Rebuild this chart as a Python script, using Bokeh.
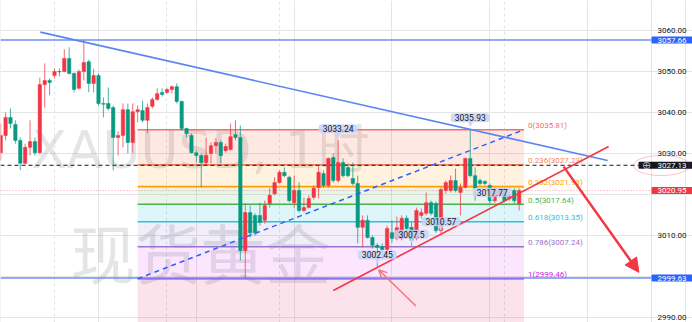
import numpy as np
from bokeh.plotting import figure
from bokeh.models import (Range1d, FixedTicker, NumeralTickFormatter, Label, Arrow, LinearAxis,
                          NormalHead, OpenHead, PolyAnnotation, Grid)
from bokeh.core.properties import value
from bokeh.embed import file_html
from bokeh.resources import INLINE

# ---------------- data (hourly XAUUSD candles) ----------------
opens = [3030.2, 3034.4, 3038.8, 3037.1, 3033.2, 3027.6, 3031.5, 3032.9, 3030.2, 3046.8,
         3047.8, 3049.0, 3050.0, 3050.0, 3053.2, 3049.5, 3045.9, 3050.0, 3052.4, 3047.1,
         3049.0, 3042.2, 3042.2, 3041.2, 3033.9, 3034.4, 3040.7, 3032.7, 3040.2, 3040.5,
         3038.1, 3041.5, 3043.2, 3044.9, 3044.9, 3045.6, 3046.3, 3042.7, 3036.1, 3034.4,
         3030.2, 3029.5, 3027.8, 3030.0, 3031.9, 3032.7, 3030.7, 3031.0, 3034.6, 3033.9,
         3006.3, 3015.6, 3014.9, 3014.9, 3013.7, 3017.8, 3020.2, 3022.9, 3025.4, 3024.2,
         3018.0, 3021.0, 3016.1, 3016.8, 3019.3, 3021.7, 3025.1, 3022.2, 3029.0, 3023.4,
         3027.8, 3026.6, 3023.9, 3022.7, 3012.0, 3013.7, 3009.5, 3007.6, 3007.3, 3006.6,
         3010.7, 3009.3, 3009.3, 3014.2, 3012.0, 3009.3, 3014.9, 3015.4, 3018.0, 3017.8,
         3011.2, 3021.0, 3021.0, 3023.4, 3020.5, 3021.7, 3028.8, 3024.6, 3023.4, 3023.2,
         3022.2, 3018.5, 3019.8, 3021.0, 3019.0, 3021.0, 3017.8]
closes = [3034.4, 3038.8, 3037.3, 3033.2, 3027.6, 3031.5, 3032.9, 3030.2, 3046.8, 3047.8,
          3047.3, 3050.0, 3049.9, 3053.2, 3049.5, 3045.6, 3050.0, 3052.2, 3047.1, 3049.0,
          3042.2, 3042.0, 3041.0, 3033.9, 3034.4, 3040.7, 3032.7, 3040.2, 3040.7, 3038.1,
          3041.2, 3043.2, 3044.6, 3044.4, 3045.6, 3046.3, 3042.7, 3036.1, 3034.9, 3030.2,
          3029.5, 3027.8, 3029.5, 3031.9, 3032.7, 3029.5, 3031.7, 3034.1, 3033.9, 3006.3,
          3015.6, 3010.7, 3010.7, 3013.2, 3017.3, 3019.8, 3022.9, 3025.4, 3024.6, 3018.5,
          3021.0, 3016.1, 3016.8, 3019.0, 3021.5, 3025.4, 3022.2, 3028.8, 3023.4, 3027.8,
          3024.6, 3024.6, 3022.7, 3012.0, 3013.7, 3009.5, 3007.6, 3007.1, 3006.6, 3011.7,
          3009.3, 3011.9, 3014.2, 3011.7, 3008.8, 3016.1, 3015.6, 3018.0, 3015.4, 3011.2,
          3021.2, 3022.9, 3023.4, 3021.0, 3021.7, 3028.8, 3024.6, 3021.5, 3022.7, 3022.7,
          3018.5, 3021.0, 3021.0, 3018.5, 3019.8, 3018.5, 3020.95]
highs = [3037.3, 3040.0, 3041.0, 3038.1, 3033.9, 3032.4, 3038.1, 3033.9, 3048.5, 3052.0,
         3048.3, 3050.7, 3050.7, 3055.4, 3055.9, 3049.8, 3050.5, 3057.66, 3052.9, 3050.7,
         3049.5, 3043.7, 3046.1, 3041.7, 3035.4, 3042.2, 3042.2, 3042.2, 3041.7, 3042.9,
         3042.2, 3043.7, 3045.9, 3045.9, 3045.9, 3046.6, 3047.1, 3042.9, 3036.3, 3034.9,
         3030.7, 3030.0, 3033.9, 3032.7, 3033.7, 3033.2, 3032.4, 3037.3, 3038.1, 3036.8,
         3017.8, 3017.3, 3015.4, 3018.0, 3018.5, 3021.5, 3024.2, 3025.9, 3026.6, 3024.6,
         3024.6, 3023.0, 3019.3, 3019.8, 3022.2, 3027.1, 3025.9, 3029.0, 3030.0, 3033.24,
         3028.8, 3027.6, 3027.8, 3024.6, 3014.9, 3014.9, 3010.0, 3008.1, 3008.1, 3012.4,
         3013.7, 3014.6, 3014.9, 3014.9, 3013.2, 3016.8, 3016.6, 3020.5, 3018.5, 3018.3,
         3021.7, 3023.4, 3024.6, 3026.3, 3022.7, 3029.0, 3035.93, 3026.6, 3023.9, 3023.4,
         3022.7, 3021.7, 3021.5, 3021.5, 3020.5, 3021.5, 3021.5]
lows = [3028.3, 3033.2, 3036.1, 3032.4, 3025.9, 3027.3, 3029.5, 3029.5, 3030.0, 3041.2,
        3044.2, 3048.3, 3048.8, 3049.8, 3049.3, 3044.9, 3045.6, 3047.8, 3044.9, 3044.9,
        3041.7, 3038.8, 3040.5, 3025.9, 3029.5, 3031.5, 3030.0, 3030.2, 3037.6, 3037.6,
        3034.9, 3041.0, 3042.9, 3043.9, 3044.6, 3044.6, 3042.2, 3035.6, 3033.9, 3030.0,
        3027.8, 3021.7, 3027.3, 3027.6, 3030.0, 3027.6, 3030.2, 3030.7, 3033.2, 3003.9,
        2999.5, 3009.5, 3010.0, 3012.4, 3012.9, 3016.8, 3019.8, 3022.7, 3024.2, 3018.1,
        3016.8, 3015.6, 3015.6, 3016.6, 3018.8, 3019.0, 3021.7, 3021.7, 3022.9, 3022.9,
        3024.2, 3024.2, 3022.2, 3008.1, 3007.1, 3009.3, 3006.8, 3002.45, 3005.6, 3006.1,
        3008.3, 3008.8, 3008.8, 3010.2, 3007.5, 3008.8, 3014.2, 3014.9, 3014.9, 3010.7,
        3010.57, 3020.2, 3020.5, 3020.5, 3014.9, 3021.5, 3024.2, 3018.5, 3022.2, 3022.2,
        3017.77, 3018.0, 3019.3, 3018.1, 3018.5, 3017.8, 3016.1]
bars = list(range(len(opens)))

day_start_bars = [11, 34, 57, 80, 103]
y_ticks = [2990, 3010, 3030, 3040, 3050, 3060]

fib_bars = [28, 107]
fib_ratio_text = ["0", "0.236", "0.382", "0.5", "0.618", "0.786", "1"]
fib_prices = [3035.81, 3027.23, 3021.93, 3017.64, 3013.35, 3007.24, 2999.46]
fib_line_colors = ["#f07070", "#f4845f", "#ffa000", "#4caf50", "#26c6da", "#9575cd", "#d21fe0"]
fib_fill_colors = ["#f4511e", "#ff9800", "#4caf50", "#00bcd4", "#9575cd", "#e040fb"]
below_fill_color = "#e91e63"

swing_bars = [69, 96, 77, 84, 90, 100.5]
swing_prices = [3033.24, 3035.93, 3002.45, 3007.5, 3010.57, 3017.77]
swing_text = ["3033.24", "3035.93", "3002.45", "3007.5", "3010.57", "3017.77"]

resist_price = 3057.66
support_price = 2999.63
marked_price = 3027.13
last_price = 3020.95

down_trend_x = [8.1, 124.1]
down_trend_y = [3059.6, 3028.3]
up_trend_x = [68.0, 124.3]
up_trend_y = [2996.6, 3031.7]
long_arrow = (115.1, 3026.8, 130.5, 3001.0)
short_arrow = (84.9, 2992.8, 77.3, 3001.6)

# ---------------- layout ----------------
BAR_PX = 4.891
PX_PER_PRICE = 4.1
W, H = 692, 322
AXIS_PX = 651            # where the price scale starts
TAG_PX = 638             # left edge of the dark marked-price tag
x0 = -0.2 / BAR_PX
x1 = x0 + W / BAR_PX
x_axis_loc = x0 + AXIS_PX / BAR_PX
x_tag_left = x0 + TAG_PX / BAR_PX
y1 = 3060 + 30 / PX_PER_PRICE
y0 = y1 - H / PX_PER_PRICE

p = figure(width=W, height=H, x_range=Range1d(x0, x1), y_range=Range1d(y0, y1),
           output_backend="svg", toolbar_location=None, x_axis_location=None,
           y_axis_location=None, min_border=0)
p.outline_line_color = None

yax = LinearAxis(fixed_location=x_axis_loc, ticker=FixedTicker(ticks=y_ticks),
                 formatter=NumeralTickFormatter(format="0.00"))
yax.major_label_text_font_size = "8px"
yax.major_label_text_font = "Roboto"
yax.major_label_text_color = "#131722"
yax.major_tick_line_color = None
yax.minor_tick_line_color = None
yax.major_tick_out = 0
yax.major_tick_in = 0
yax.major_label_standoff = 6
yax.axis_line_color = "#e0e3eb"
p.add_layout(yax, "right")

p.add_layout(Grid(dimension=0, ticker=FixedTicker(ticks=day_start_bars),
                  grid_line_color="#e0e3eb", grid_line_dash="3 3"))

# watermark
p.add_layout(Label(x=200, y=H - 167 + 18, x_units="screen", y_units="screen", text="XAUUSD, 1时",
                   text_align="center", text_baseline="alphabetic",
                   text_font="'DejaVu Sans', 'Noto Sans CJK SC'",
                   text_font_size="52px", text_color="#787b86", text_alpha=0.2, level="underlay"))
p.add_layout(Label(x=200, y=H - 276 + 26, x_units="screen", y_units="screen", text="现货黄金",
                   text_align="center", text_baseline="alphabetic", text_font="Noto Sans CJK SC",
                   text_font_size="65px", text_color="#787b86", text_alpha=0.2, level="underlay"))

# fib fills
tops = fib_prices[:-1] + [fib_prices[-1]]
bottoms = fib_prices[1:] + [y0 - 5]
p.quad(left=[fib_bars[0]] * 7, right=[fib_bars[1]] * 7, top=tops, bottom=bottoms,
       fill_color=fib_fill_colors + [below_fill_color], fill_alpha=0.13, line_color=None)
p.segment(x0=[fib_bars[0]] * 7, x1=[fib_bars[1]] * 7, y0=fib_prices, y1=fib_prices,
          line_color=fib_line_colors, line_width=1.6)
p.text(x=[fib_bars[1]] * 7, y=fib_prices,
       text=[f"{r}({v:.2f})" for r, v in zip(fib_ratio_text, fib_prices)],
       text_color=fib_line_colors, text_font=value("Roboto"), text_font_size="8px",
       text_align="left", text_baseline="middle", x_offset=4, y_offset=-4)

# horizontal lines (end at the price scale)
p.segment(x0=[x0, x0], x1=[x_axis_loc, x_axis_loc], y0=[resist_price, support_price],
          y1=[resist_price, support_price], line_color="#6d8ff5", line_width=1.5)
p.segment(x0=[x0], x1=[x_tag_left], y0=[marked_price], y1=[marked_price],
          line_color="#131722", line_width=1, line_dash="4 3")
p.segment(x0=[x0], x1=[x_axis_loc], y0=[last_price], y1=[last_price],
          line_color="#f23645", line_alpha=0.5, line_width=1, line_dash="1 2")

# candles
up = [c > o for o, c in zip(opens, closes)]
body_col = ["#f23645" if u else "#089981" for u in up]
p.segment(x0=bars, x1=bars, y0=lows, y1=highs, line_color=body_col, line_alpha=0.75, line_width=1)
p.vbar(x=bars, width=0.7, top=[max(o, c) for o, c in zip(opens, closes)],
       bottom=[min(o, c) for o, c in zip(opens, closes)], fill_color=body_col,
       line_color=body_col, line_width=0.5)

# trend lines
p.line(down_trend_x, down_trend_y, line_color="#5b86f2", line_width=1.6)
p.line(fib_bars, [fib_prices[-1], fib_prices[0]], line_color="#2962ff", line_width=1.5,
       line_dash="5 4")
p.line(up_trend_x, up_trend_y, line_color="#f23645", line_width=1.6)

# swing price labels (box with a small pointer)
p.text(x=swing_bars, y=swing_prices, text=["▼"] * len(swing_bars), text_color="#c8d4f7",
       text_font=value("DejaVu Sans"), text_font_size="6px", text_align="center",
       text_baseline="bottom", y_offset=-2)
p.text(x=swing_bars, y=swing_prices, text=swing_text, text_color="#131722",
       text_font=value("Roboto"), text_font_size="8.5px", text_align="center",
       text_baseline="bottom", y_offset=-7, background_fill_color="#c8d4f7",
       background_fill_alpha=0.85, padding=dict(left=4, right=4, top=1, bottom=1),
       border_radius=3)

# arrows
p.add_layout(Arrow(x_start=long_arrow[0], y_start=long_arrow[1], x_end=long_arrow[2],
                   y_end=long_arrow[3], line_color="#f23645", line_width=2.5,
                   end=NormalHead(size=14, fill_color="#f23645", line_color="#f23645")))
p.add_layout(Arrow(x_start=short_arrow[0], y_start=short_arrow[1], x_end=short_arrow[2],
                   y_end=short_arrow[3], line_color="#f7737d", line_width=1.5,
                   end=OpenHead(size=8, line_color="#f7737d", line_width=1.5)))

# price-axis tags (box left edge at x, text after the left padding)
def axis_tag(price, text, bg, left_px=AXIS_PX, pad_left=6):
    p.add_layout(Label(x=left_px, y=price, x_units="screen", y_units="data", text=text,
                       text_color="white", text_font="Roboto", text_font_size="8px",
                       text_align="left", text_baseline="middle", background_fill_color=bg,
                       padding=dict(left=pad_left, right=8, top=1, bottom=1), border_radius=1))

axis_tag(resist_price, f"{resist_price:.2f}", "#2962ff")
axis_tag(support_price, f"{support_price:.2f}", "#2962ff")
axis_tag(last_price, f"{last_price:.2f}", "#f23645")
axis_tag(marked_price, f"{marked_price:.2f}", "#131722", left_px=TAG_PX, pad_left=19)
p.add_layout(Label(x=TAG_PX + 8, y=marked_price, x_units="screen", y_units="data", text="⊕",
                   text_color="#b2b5be", text_font="DejaVu Sans", text_font_size="11px",
                   text_align="center", text_baseline="middle"))

t = np.linspace(0, 2 * np.pi, 60)
p.add_layout(PolyAnnotation(xs=list(661 + 28 * np.cos(t)), ys=list(H - 165 + 10 * np.sin(t)),
                            xs_units="screen", ys_units="screen", fill_alpha=0,
                            line_color="#f23645", line_width=1))

open("out.html", "w").write(file_html(p, INLINE))
